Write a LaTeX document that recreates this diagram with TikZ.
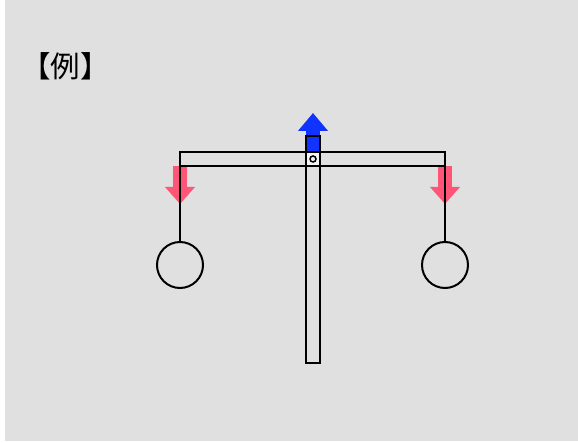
\documentclass[tikz,border=0pt]{standalone}
\usepackage{fontspec}
\newfontfamily\cjk{Noto Sans CJK JP}
\usetikzlibrary{arrows.meta}
\definecolor{red1}{RGB}{255, 85, 119}
\definecolor{blue1}{RGB}{17, 51, 255}
\definecolor{gray1}{RGB}{224, 224, 224}
\definecolor{light1}{RGB}{244, 244, 244}

\begin{document}
\begin{tikzpicture}[x=1pt, y=-1pt, line width=2pt]
  \useasboundingbox (0,0) rectangle (578,443);
  \fill[gray1] (5,0) rectangle (578,441);
  \node[font=\cjk\fontsize{29.5}{32}\selectfont, inner sep=0pt] (title) at (65.5,66) {【例】};
  \coordinate (hookL) at (180,166);
  \coordinate (hookR) at (445,166);
  \coordinate (top) at (313,152);
  \node[circle,draw, minimum size=46pt, inner sep=0pt] (wL) at (180,265) {};
  \node[circle,draw, minimum size=46pt, inner sep=0pt] (wR) at (445,265) {};
  % forces
  \foreach \from/\to in {hookL/{180,204}, hookR/{445,204}}
   \draw[red1, line width=14pt, -{Triangle[length=17pt,width=29pt]}] (\from) -- (\to);
  \draw[blue1, line width=14pt, -{Triangle[length=18pt,width=29pt]}] (top) -- (313,113);
  % beam and post
  \fill[light1] (306,152) rectangle (320,166);
  \fill[blue1] (306,136) rectangle (320,152);
  \draw (180,152) rectangle (445,166);
  \draw (306,136) rectangle (320,363);
  \draw (306,152) -- (320,152);
  \node[circle,draw, line width=1.5pt, minimum size=6pt, inner sep=0pt] (pivot) at (313,159) {};
  \foreach \from/\to in {hookL/wL, hookR/wR}
   \draw (\from) -- (\to);
\end{tikzpicture}
\end{document}
